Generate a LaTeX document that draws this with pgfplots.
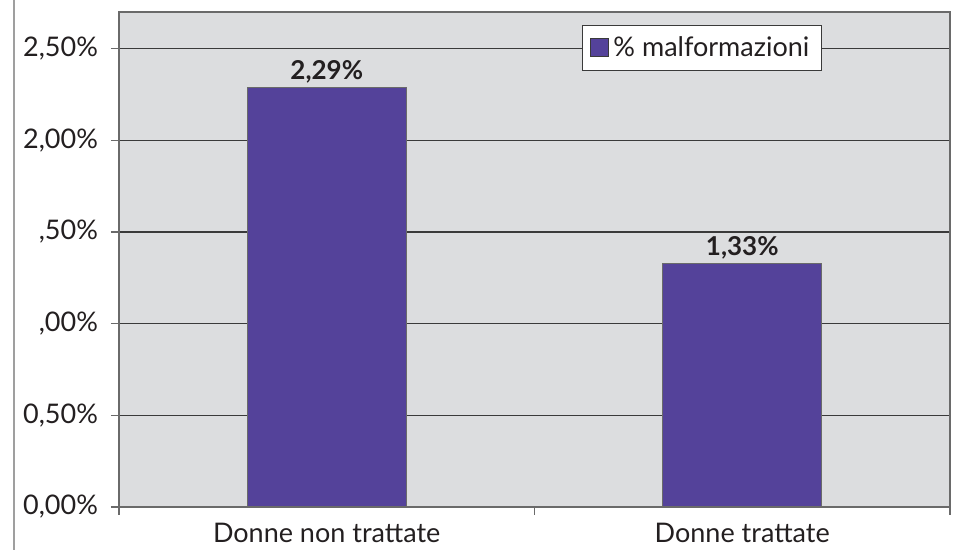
\documentclass[border=0pt]{standalone}
\usepackage{pgfplots}
\pgfplotsset{compat=1.18}
\usepackage{fontspec}
\setmainfont{Lato}
\definecolor{bgc}{HTML}{DCDDDF}
\definecolor{barc}{HTML}{54429A}
\definecolor{framec}{HTML}{6A6A6A}
\definecolor{gridc}{HTML}{3A3A3A}
\definecolor{txtc}{HTML}{231F20}
\begin{document}
\begin{tikzpicture}
\begin{axis}[
  scale only axis,
  width=415.5pt, height=247.5pt,
  xmin=0.5, xmax=2.5, ymin=0, ymax=2.7,
  axis background/.style={fill=bgc},
  axis line style={framec, line width=0.8pt},
  ytick={0,0.5,1,1.5,2,2.5},
  yticklabels={{0,00\%},{0,50\%},{,00\%},{,50\%},{2,00\%},{2,50\%}},
  ymajorgrids,
  grid style={gridc, line width=0.6pt},
  tick align=outside,
  major tick length=4pt,
  tick style={framec, line width=0.8pt},
  xtick={0.5,1.5,2.5},
  xticklabels={},
  extra x ticks={1,2},
  extra x tick labels={Donne non trattate,Donne trattate},
  extra x tick style={major tick length=0pt, tick style={draw=none}},
  ytick pos=left, xtick pos=bottom,
  tick label style={font=\fontsize{13.5pt}{15pt}\selectfont, text=txtc},
  yticklabel style={xshift=-3pt},
  xticklabel style={yshift=-4.5pt},
  ybar, bar width=0.382,
  legend style={at={(rel axis cs:0.557,0.974)}, anchor=north west,
    draw=gridc, fill=white, line width=0.6pt,
    font=\fontsize{13.5pt}{15pt}\selectfont, text=txtc,
    inner xsep=4pt, inner ysep=3.5pt},
  legend image code/.code={\draw[fill=barc, draw=gridc, line width=0.5pt] (0pt,-4.5pt) rectangle (9pt,4.5pt);},
  nodes near coords,
  point meta=explicit symbolic,
  every node near coord/.append style={font=\bfseries\fontsize{13pt}{15pt}\selectfont, text=txtc, inner sep=1.5pt},
]
\addplot[fill=barc, draw=framec, line width=0.6pt] coordinates {(1,2.29) [2,29\%] (2,1.33) [1,33\%]};
\addlegendentry{\% malformazioni}
\end{axis}
\draw[gray!75, line width=1pt] ([xshift=-52.5pt,yshift=6pt]current axis.north west) -- ([xshift=-52.5pt,yshift=-21.5pt]current axis.south west);
\pgfresetboundingbox
\path ([xshift=-59.5pt,yshift=-21.5pt]current axis.south west) rectangle ([xshift=4pt,yshift=6pt]current axis.north east);
\end{tikzpicture}
\end{document}
